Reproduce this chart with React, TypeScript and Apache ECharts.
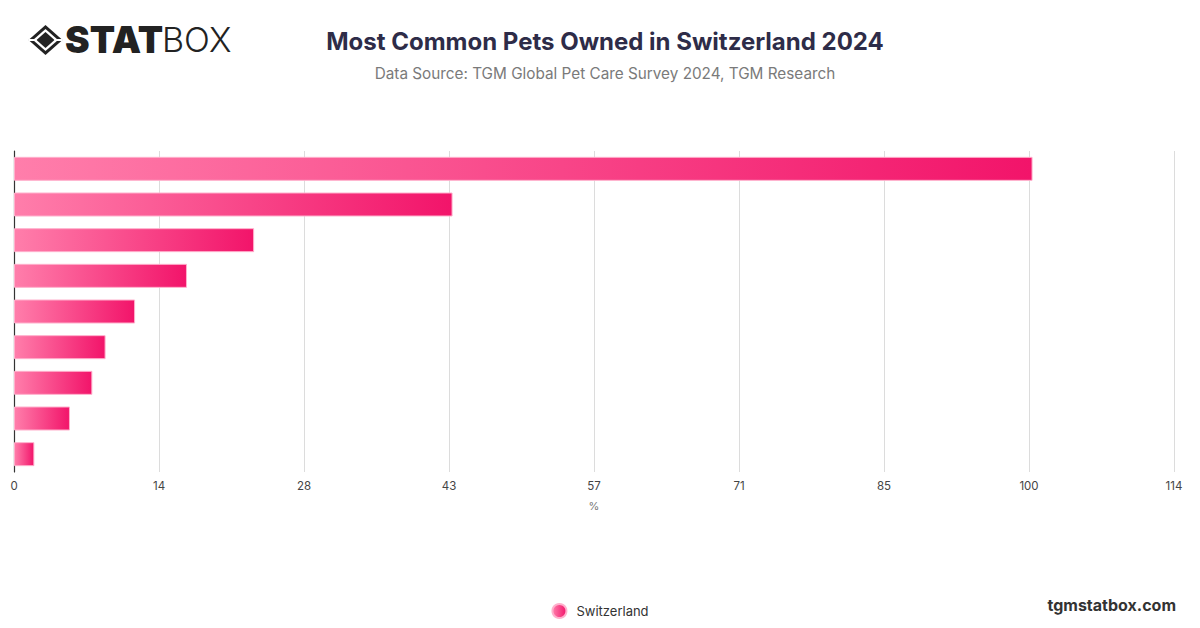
import React, { useEffect, useRef } from "react";
import * as echarts from "echarts";

const categories = ["Dogs", "Cats", "Fish", "Birds", "Rabbits", "Hamsters", "Guinea pigs", "Reptiles", "Other"];
const seriesName = "Switzerland";
const values = [100.1, 43.1, 23.6, 17.0, 11.9, 9.0, 7.7, 5.5, 2.0];
const xTickLabels = ["0", "14", "28", "43", "57", "71", "85", "100", "114"];
const xMax = 114;
const xInterval = 14.25;

export default function App() {
  const ref = useRef<HTMLDivElement>(null);
  useEffect(() => {
    if (!ref.current) return;
    const chart = echarts.init(ref.current, undefined, { renderer: "svg" });
    const grad = new echarts.graphic.LinearGradient(0, 0, 1, 0, [
      { offset: 0, color: "#ff7eab" },
      { offset: 1, color: "#f2146a" },
    ]);
    chart.setOption({
      animation: false,
      backgroundColor: "#ffffff",
      textStyle: { fontFamily: "Inter, 'Noto Sans', sans-serif" },
      title: [
        {
          text: "Most Common Pets Owned in Switzerland 2024",
          left: 600,
          textAlign: "center",
          top: 24,
          textStyle: { fontSize: 24, fontWeight: 700, color: "#2e2c48", fontFamily: "Inter, sans-serif" },
        },
        {
          text: "Data Source: TGM Global Pet Care Survey 2024, TGM Research",
          left: 600,
          textAlign: "center",
          top: 61,
          textStyle: { fontSize: 15.3, fontWeight: 400, color: "#7a7a7a", fontFamily: "Inter, sans-serif" },
        },
      ],
      graphic: [
        {
          type: "group",
          left: 26,
          top: 25,
          children: [
            { type: "polygon", shape: { points: [[17, 0], [34, 15], [17, 30], [0, 15]] }, style: { fill: "#222" } },
            { type: "polygon", shape: { points: [[17, 4], [29.5, 15], [17, 26], [4.5, 15]] }, style: { fill: "#fff" } },
            { type: "polygon", shape: { points: [[17, 7], [26, 15], [17, 23], [8, 15]] }, style: { fill: "#222" } },
            { type: "line", shape: { x1: 0, y1: 15, x2: 8, y2: 15 }, style: { stroke: "#fff", lineWidth: 2 } },
            { type: "line", shape: { x1: 26, y1: 15, x2: 34, y2: 15 }, style: { stroke: "#fff", lineWidth: 2 } },
          ],
        },
        {
          type: "text",
          left: 65,
          top: 21,
          style: { text: "STAT", fontSize: 37, fontWeight: 900, fill: "#222", fontFamily: "Inter, sans-serif" },
        },
        {
          type: "text",
          left: 162,
          top: 22,
          style: { text: "BOX", fontSize: 34, fontWeight: 300, fill: "#222", fontFamily: "Inter, sans-serif" },
        },
        {
          type: "text",
          right: 24,
          top: 597,
          style: { text: "tgmstatbox.com", fontSize: 16, fontWeight: 700, fill: "#333", fontFamily: "Inter, sans-serif" },
        },
      ],
      legend: {
        bottom: 4,
        left: "center",
        icon: "circle",
        itemWidth: 14,
        itemHeight: 14,
        textStyle: { fontSize: 13, color: "#333", padding: [0, 0, 0, 5] },
        data: [{ name: seriesName, itemStyle: { color: grad } }],
      },
      grid: { left: 14, right: 26, top: 151, bottom: 156, containLabel: false },
      xAxis: {
        type: "value",
        min: 0,
        max: xMax,
        interval: xInterval,
        name: "%",
        nameLocation: "middle",
        nameGap: 28,
        nameTextStyle: { fontSize: 11, color: "#777" },
        axisLine: { show: false },
        axisTick: { show: false },
        axisLabel: {
          fontSize: 11.5,
          color: "#444",
          margin: 8,
          formatter: (_v: number, i: number) => xTickLabels[i] ?? "",
        },
        splitLine: { show: true, lineStyle: { color: "#dcdcdc", width: 1 } },
      },
      yAxis: {
        type: "category",
        data: categories,
        inverse: true,
        axisLine: { show: true, lineStyle: { color: "#333", width: 1.2 } },
        axisTick: { show: false },
        axisLabel: { show: false },
        splitLine: { show: false },
      },
      series: [
        {
          name: seriesName,
          type: "bar",
          data: values,
          barWidth: 24,
          itemStyle: { color: grad, borderColor: "#ffb0cc", borderWidth: 1 },
        },
      ],
    });
    return () => chart.dispose();
  }, []);
  return <div ref={ref} style={{ width: 1200, height: 628, margin: -8 }} />;
}
